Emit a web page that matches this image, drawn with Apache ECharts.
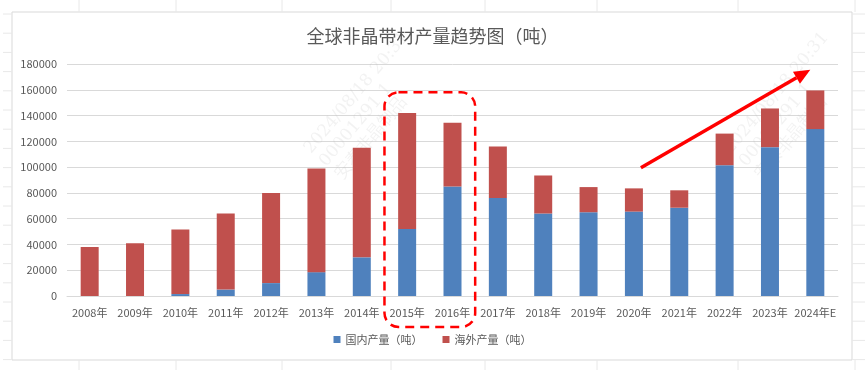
<!DOCTYPE html>
<html><head><meta charset="utf-8">
<script src="https://cdn.jsdelivr.net/npm/echarts@6/dist/echarts.min.js"></script>
<style>html,body{margin:0;padding:0;background:#fff;}#c{width:865px;height:370px;}</style>
</head><body><div id="c"></div>
<script>
const categories = ['2008年','2009年','2010年','2011年','2012年','2013年','2014年','2015年','2016年','2017年','2018年','2019年','2020年','2021年','2022年','2023年','2024年E'];
const domestic = [0, 0, 1500, 5000, 10000, 18500, 30000, 52000, 85000, 76000, 64000, 65000, 65500, 68500, 101500, 115500, 129500];
const overseas = [38000, 41000, 50000, 59000, 70000, 80500, 85000, 90000, 49500, 40000, 29500, 19500, 18000, 13500, 24500, 30000, 30000];
const yTicks = [0, 20000, 40000, 60000, 80000, 100000, 120000, 140000, 160000, 180000];
const seriesNames = ['国内产量（吨）', '海外产量（吨）'];
const titleText = '全球非晶带材产量趋势图（吨）';

const font = '"Noto Sans CJK SC", "Liberation Sans", sans-serif';
const chart = echarts.init(document.getElementById('c'));
chart.setOption({
  animation: false,
  backgroundColor: '#fff',
  title: { text: titleText, left: 'center', top: 22, textStyle: { fontFamily: font, fontSize: 18, fontWeight: 'normal', color: '#595959' } },
  legend: { bottom: 20, left: 'center', itemWidth: 7, itemHeight: 7, itemGap: 20, icon: 'rect',
    textStyle: { fontFamily: font, fontSize: 11, color: '#595959' }, data: seriesNames },
  grid: { left: 67, right: 27, top: 64, bottom: 74 },
  xAxis: { type: 'category', data: categories,
    axisLine: { lineStyle: { color: '#d9d9d9' } }, axisTick: { show: false },
    axisLabel: { fontFamily: font, fontSize: 11, color: '#595959', margin: 11, interval: 0 } },
  yAxis: { type: 'value', min: yTicks[0], max: yTicks[yTicks.length-1], interval: yTicks[1]-yTicks[0],
    axisLine: { show: false }, axisTick: { show: false },
    splitLine: { lineStyle: { color: '#d9d9d9' } },
    axisLabel: { fontFamily: font, fontSize: 11, color: '#595959', margin: 10, formatter: v => String(v) } },
  series: [
    { name: seriesNames[0], type: 'bar', stack: 't', data: domestic, barWidth: 18, itemStyle: { color: '#4F81BD' } },
    { name: seriesNames[1], type: 'bar', stack: 't', data: overseas, barWidth: 18, itemStyle: { color: '#C0504D' } }
  ]
});

// annotations
const px = (c, v) => chart.convertToPixel({ gridIndex: 0 }, [c, v]);
const slot = px(1, 0)[0] - px(0, 0)[0];
const rx0 = px(7, 0)[0] - slot/2, rx1 = px(8, 0)[0] + slot/2;
const ry0 = px(0, 158000)[1], ry1 = px(0, 0)[1] + 31;
const a0 = px(12, 99500); a0[0] += 7;
const a1 = px(16, 175500); a1[0] -= 5;
const ang = Math.atan2(a1[1]-a0[1], a1[0]-a0[0]);
const hl = 16, hw = 7;
const base = [a1[0] - hl*Math.cos(ang), a1[1] - hl*Math.sin(ang)];
const head = [a1, [base[0] + hw*Math.sin(ang), base[1] - hw*Math.cos(ang)], [base[0] - hw*Math.sin(ang), base[1] + hw*Math.cos(ang)]];

const g = [];
// frame
g.push({ type: 'rect', shape: { x: 12, y: 12, width: 840, height: 348 }, style: { fill: null, stroke: '#d9d9d9', lineWidth: 1 }, z: 0 });
// faint spreadsheet grid outside frame
for (let y = 14; y < 370; y += 19.2) {
  g.push({ type: 'line', shape: { x1: 3, y1: y, x2: 12, y2: y }, style: { stroke: '#e8e8e8', lineWidth: 1 } });
  g.push({ type: 'line', shape: { x1: 852, y1: y, x2: 865, y2: y }, style: { stroke: '#e8e8e8', lineWidth: 1 } });
}
[79, 176, 282, 391, 485, 597, 738, 855].forEach(x => {
  g.push({ type: 'line', shape: { x1: x, y1: 0, x2: x, y2: 12 }, style: { stroke: '#e8e8e8', lineWidth: 1 } });
  g.push({ type: 'line', shape: { x1: x, y1: 360, x2: x, y2: 370 }, style: { stroke: '#e8e8e8', lineWidth: 1 } });
});
// watermarks
[[300, 145], [720, 145]].forEach(p => {
  g.push({ type: 'text', x: p[0], y: p[1], rotation: 50*Math.PI/180,
    style: { text: '2024/08/18 20:31\n00001291 1\n安泰非晶制品', fill: 'rgba(190,190,190,0.2)', font: '17px "DejaVu Serif", serif', lineHeight: 20 }, z: 1 });
});
// dashed rounded rect
g.push({ type: 'rect', shape: { x: rx0, y: ry0, width: rx1-rx0, height: ry1-ry0, r: 14 },
  style: { fill: null, stroke: '#FF0000', lineWidth: 2.5, lineDash: [9, 6] }, z: 100 });
// arrow
g.push({ type: 'line', shape: { x1: a0[0], y1: a0[1], x2: base[0], y2: base[1] }, style: { stroke: '#FF0000', lineWidth: 3.5 }, z: 100 });
g.push({ type: 'polygon', shape: { points: head }, style: { fill: '#FF0000' }, z: 100 });
chart.setOption({ graphic: g });
</script></body></html>
